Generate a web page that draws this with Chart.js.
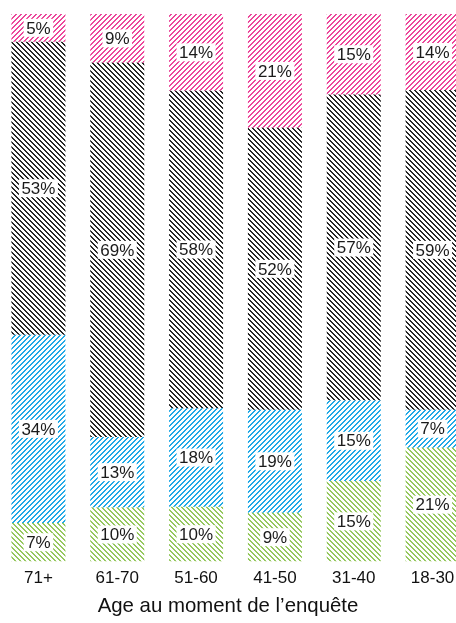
<!DOCTYPE html>
<html><head><meta charset="utf-8">
<script src="https://cdn.jsdelivr.net/npm/chart.js@4"></script>
<style>
html,body{margin:0;padding:0;background:#fff;overflow:hidden;width:456px;height:623px;}
#wrap{position:absolute;left:-1.4px;top:0;width:473px;height:598px;}
#title{position:absolute;left:0;width:456px;top:593px;text-align:center;font:20.4px "Liberation Sans",Arial,sans-serif;color:#111;line-height:24px;}
</style></head><body>
<div id="wrap"><canvas id="c"></canvas></div>
<div id="title">Age au moment de l’enquête</div>
<script>
const categories = ['71+', '61-70', '51-60', '41-50', '31-40', '18-30'];
const greenValues = [7, 10, 10, 9, 15, 21];
const blueValues = [34, 13, 18, 19, 15, 7];
const blackValues = [53, 69, 58, 52, 57, 59];
const pinkValues = [5, 9, 14, 21, 15, 14];

const seriesRaw = [greenValues, blueValues, blackValues, pinkValues];
const totals = categories.map((_, j) => seriesRaw.reduce((s, arr) => s + arr[j], 0));
const share = arr => arr.map((v, j) => v / totals[j] * 100);

function hatch(rgb, dir) {
  const s = 5;
  const c = document.createElement('canvas');
  c.width = s; c.height = s;
  const g = c.getContext('2d');
  const img = g.createImageData(s, s);
  for (let y = 0; y < s; y++) {
    for (let x = 0; x < s; x++) {
      const k = dir > 0 ? (x + y) % s : ((x - y) % s + s) % s;
      let a = 0;
      if (k === 0 || k === 1) a = 255;
      const p = (y * s + x) * 4;
      img.data[p] = rgb[0]; img.data[p + 1] = rgb[1]; img.data[p + 2] = rgb[2]; img.data[p + 3] = a;
    }
  }
  g.putImageData(img, 0, 0);
  return g.createPattern(c, 'repeat');
}

const labelPlugin = {
  id: 'segLabels',
  afterDatasetsDraw(chart) {
    const ctx = chart.ctx;
    ctx.save();
    ctx.font = '17px "Liberation Sans", Arial, sans-serif';
    ctx.textAlign = 'center';
    ctx.textBaseline = 'middle';
    chart.data.datasets.forEach((ds, i) => {
      const meta = chart.getDatasetMeta(i);
      meta.data.forEach((el, j) => {
        const txt = seriesRaw[i][j] + '%';
        const x = el.x, y = (el.y + el.base) / 2;
        const w = ctx.measureText(txt).width + 5;
        const h = 18;
        ctx.fillStyle = '#fff';
        ctx.fillRect(x - w / 2, y - h / 2, w, h);
        ctx.fillStyle = '#1a1a1a';
        ctx.fillText(txt, x, y + 1);
      });
    });
    ctx.restore();
  }
};

new Chart(document.getElementById('c'), {
  type: 'bar',
  data: {
    labels: categories,
    datasets: [
      { label: 'green', data: share(greenValues), backgroundColor: hatch([150, 200, 95], -1) },
      { label: 'blue', data: share(blueValues), backgroundColor: hatch([35, 170, 230], 1) },
      { label: 'black', data: share(blackValues), backgroundColor: hatch([40, 40, 40], -1) },
      { label: 'pink', data: share(pinkValues), backgroundColor: hatch([236, 72, 155], 1) }
    ]
  },
  options: {
    responsive: true,
    maintainAspectRatio: false,
    animation: false,
    layout: { padding: { top: 14, left: 0, right: 0, bottom: 2 } },
    datasets: { bar: { categoryPercentage: 1, barPercentage: 0.685, borderWidth: 0 } },
    plugins: { legend: { display: false }, tooltip: { enabled: false } },
    scales: {
      x: {
        stacked: true,
        grid: { display: false, drawTicks: false },
        border: { display: false },
        ticks: { color: '#111', padding: 7, font: { size: 17, family: '"Liberation Sans", Arial, sans-serif' } }
      },
      y: { stacked: true, display: false, min: 0, max: 100 }
    }
  },
  plugins: [labelPlugin]
});
</script>
</body></html>
